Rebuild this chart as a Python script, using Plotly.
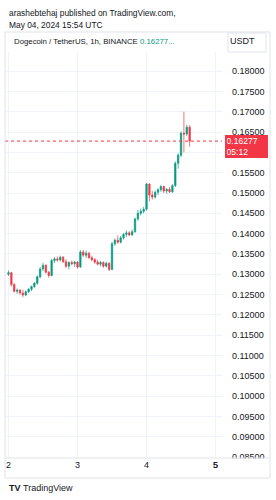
import plotly.graph_objects as go
import pandas as pd

# ---- data (1h candles, DOGE/USDT, from May 2 00:00 UTC) ----
start_time = "2024-05-02 00:00"
opens = [0.1300, 0.1304, 0.1275, 0.1258, 0.1261, 0.1254, 0.1249, 0.1257, 0.1263, 0.1270,
         0.1278, 0.1294, 0.1313, 0.1322, 0.1305, 0.1297, 0.1334, 0.1338, 0.1335, 0.1342,
         0.1331, 0.1320, 0.1329, 0.1326, 0.1330, 0.1318, 0.1355, 0.1347, 0.1352, 0.1341,
         0.1336, 0.1330, 0.1325, 0.1329, 0.1320, 0.1327, 0.1312, 0.1375, 0.1384, 0.1379,
         0.1390, 0.1398, 0.1402, 0.1397, 0.1405, 0.1436, 0.1450, 0.1455, 0.1460, 0.1522,
         0.1495, 0.1490, 0.1502, 0.1508, 0.1516, 0.1505, 0.1509, 0.1503, 0.1518, 0.1573,
         0.1593, 0.1647, 0.1645, 0.1662]
highs = [0.1309, 0.1306, 0.1278, 0.1265, 0.1264, 0.1262, 0.1260, 0.1266, 0.1272, 0.1281,
         0.1297, 0.1318, 0.1328, 0.1325, 0.1308, 0.1338, 0.1342, 0.1344, 0.1346, 0.1345,
         0.1337, 0.1332, 0.1334, 0.1333, 0.1332, 0.1360, 0.1360, 0.1358, 0.1355, 0.1346,
         0.1340, 0.1336, 0.1333, 0.1332, 0.1331, 0.1330, 0.1380, 0.1388, 0.1396, 0.1394,
         0.1402, 0.1408, 0.1406, 0.1410, 0.1440, 0.1458, 0.1462, 0.1466, 0.1525, 0.1524,
         0.1505, 0.1506, 0.1512, 0.1520, 0.1518, 0.1512, 0.1515, 0.1522, 0.1578, 0.1598,
         0.1652, 0.1700, 0.1668, 0.1667]
lows = [0.1296, 0.1270, 0.1255, 0.1252, 0.1250, 0.1244, 0.1246, 0.1254, 0.1259, 0.1266,
        0.1274, 0.1290, 0.1308, 0.1302, 0.1292, 0.1295, 0.1328, 0.1331, 0.1332, 0.1328,
        0.1315, 0.1312, 0.1322, 0.1318, 0.1314, 0.1316, 0.1343, 0.1340, 0.1338, 0.1332,
        0.1326, 0.1322, 0.1320, 0.1316, 0.1317, 0.1308, 0.1310, 0.1370, 0.1375, 0.1376,
        0.1385, 0.1392, 0.1394, 0.1395, 0.1402, 0.1432, 0.1445, 0.1450, 0.1457, 0.1480,
        0.1484, 0.1486, 0.1495, 0.1503, 0.1500, 0.1498, 0.1500, 0.1500, 0.1515, 0.1560,
        0.1588, 0.1600, 0.1640, 0.1614]
closes = [0.1304, 0.1275, 0.1258, 0.1261, 0.1254, 0.1249, 0.1257, 0.1263, 0.1270, 0.1278,
          0.1294, 0.1313, 0.1322, 0.1305, 0.1297, 0.1334, 0.1338, 0.1335, 0.1342, 0.1331,
          0.1320, 0.1329, 0.1326, 0.1330, 0.1318, 0.1355, 0.1347, 0.1352, 0.1341, 0.1336,
          0.1330, 0.1325, 0.1329, 0.1320, 0.1327, 0.1312, 0.1375, 0.1384, 0.1379, 0.1390,
          0.1398, 0.1402, 0.1397, 0.1405, 0.1436, 0.1450, 0.1455, 0.1460, 0.1522, 0.1495,
          0.1490, 0.1502, 0.1508, 0.1516, 0.1505, 0.1509, 0.1503, 0.1518, 0.1573, 0.1593,
          0.1647, 0.1645, 0.1662, 0.16277]
times = pd.date_range(start_time, periods=len(closes), freq="h")

price_ticks = [0.085, 0.090, 0.095, 0.100, 0.105, 0.110, 0.115, 0.120, 0.125, 0.130,
               0.135, 0.140, 0.145, 0.150, 0.155, 0.160, 0.165, 0.170, 0.175, 0.180]
# 0.16000 sits behind the last-price tag in the reference
price_labels = ["" if abs(v - 0.160) < 1e-9 else f"{v:.5f}" for v in price_ticks]
day_ticks = ["2024-05-02", "2024-05-03", "2024-05-04", "2024-05-05"]
day_labels = ["2", "3", "4", "5"]
last_price_label = "0.16277"
countdown = "05:12"

UP = "#089981"
DOWN = "#F23645"
TXT = "#131722"
GRID = "#f0f3fa"
BORDER = "#e0e3eb"
FONT = "Liberation Sans, Arial, sans-serif"

# ---- layout geometry (pixels) ----
W_PX, H_PX = 276, 500
L, R, T, B = 5, 222, 52, 458
PW, PH = R - L, B - T


def px(x):
    return (x - L) / PW


def py(y):
    return (B - y) / PH


fig = go.Figure()
fig.add_trace(go.Candlestick(
    x=times, open=opens, high=highs, low=lows, close=closes,
    increasing=dict(line=dict(color=UP, width=0.7), fillcolor=UP),
    decreasing=dict(line=dict(color=DOWN, width=0.7), fillcolor=DOWN),
    whiskerwidth=0, showlegend=False, hoverinfo="skip",
))

# last price dotted line
fig.add_shape(type="line", xref="paper", yref="y", x0=0, x1=1,
              y0=closes[-1], y1=closes[-1],
              line=dict(color=DOWN, width=1, dash="dot"), layer="above")

shapes_lines = [
    dict(x0=px(5), x1=px(270), y0=py(32), y1=py(32)),
    dict(x0=px(5), x1=px(270), y0=py(478), y1=py(478)),
    dict(x0=px(270), x1=px(270), y0=py(32), y1=py(478)),
    dict(x0=px(5), x1=px(5), y0=py(32), y1=py(478)),
    dict(x0=px(5), x1=px(270), y0=py(458), y1=py(458)),
]

common_x = dict(
    type="date",
    range=["2024-05-01 22:47", "2024-05-05 02:15"],
    showgrid=True, gridcolor=GRID, gridwidth=1,
    zeroline=False, showline=False, ticks="",
    tickfont=dict(size=9, color=TXT, family=FONT),
    fixedrange=True,
)

fig.update_layout(
    width=W_PX, height=H_PX,
    margin=dict(l=L, r=W_PX - R, t=T, b=H_PX - B, pad=0),
    paper_bgcolor="white", plot_bgcolor="white",
    font=dict(family=FONT, color=TXT, size=9),
    xaxis=dict(
        rangeslider=dict(visible=False),
        tickmode="array", tickvals=day_ticks, ticktext=day_labels,
        **common_x,
    ),
    # a twin time axis carrying the last day label (the primary one drops it)
    xaxis2=dict(
        overlaying="x", side="bottom", anchor="y",
        tickmode="array", tickvals=day_ticks[-1:], ticktext=day_labels[-1:],
        ticklabeloverflow="allow",
        **common_x,
    ),
    yaxis=dict(
        side="right",
        range=[0.0848, 0.1847],
        tickmode="array", tickvals=price_ticks, ticktext=price_labels,
        showgrid=True, gridcolor=GRID, gridwidth=1,
        zeroline=False, showline=False, ticks="",
        ticklabelstandoff=9,
        ticklabeloverflow="allow",
        tickfont=dict(size=9, color=TXT, family=FONT),
        fixedrange=True,
    ),
)
# invisible trace so the twin axis is drawn
fig.add_trace(go.Scatter(x=times[:1], y=closes[:1], xaxis="x2", mode="markers",
                         marker=dict(opacity=0), showlegend=False, hoverinfo="skip"))

# white mask clipping the bottom price label
fig.add_shape(type="rect", xref="paper", yref="paper",
              x0=px(R), x1=px(269.5), y0=py(462), y1=py(458.5),
              fillcolor="white", line=dict(width=0), layer="above")

for s in shapes_lines:
    fig.add_shape(type="line", xref="paper", yref="paper",
                  line=dict(color=BORDER, width=1), layer="above", **s)

# USDT box
fig.add_shape(type="rect", xref="paper", yref="paper",
              x0=px(228), x1=px(266), y0=py(52), y1=py(33),
              fillcolor="white", line=dict(color=BORDER, width=1), layer="above")

ann = []
ann.append(dict(text="arashebtehaj published on TradingView.com,", x=px(7), y=py(13),
                xanchor="left", yanchor="middle", font=dict(size=8.4, color=TXT)))
ann.append(dict(text="May 04, 2024 15:54 UTC", x=px(7), y=py(24.5),
                xanchor="left", yanchor="middle", font=dict(size=8.4, color=TXT)))
ann.append(dict(text="Dogecoin / TetherUS, 1h, BINANCE <span style='color:#089981'>0.16277...</span>",
                x=px(12), y=py(42), xanchor="left", yanchor="middle",
                font=dict(size=7.8, color=TXT)))
ann.append(dict(text="USDT", x=px(243), y=py(41.5), xanchor="center", yanchor="middle",
                font=dict(size=9, color=TXT)))
ann.append(dict(text="<b>TV</b>", x=px(7), y=py(488), xanchor="left", yanchor="middle",
                font=dict(size=9, color=TXT)))
ann.append(dict(text="TradingView", x=px(21), y=py(488), xanchor="left", yanchor="middle",
                font=dict(size=9, color=TXT)))
for a in ann:
    a.update(xref="paper", yref="paper", showarrow=False)
    fig.add_annotation(**a)

# last price tag on the price axis
fig.add_annotation(xref="paper", yref="y", x=px(225), y=closes[-1], yshift=-5.5,
                   xanchor="left", yanchor="middle", showarrow=False,
                   text=f"{last_price_label}<br>{countdown}", align="left",
                   bgcolor=DOWN, borderpad=0.5, bordercolor=DOWN,
                   width=40, height=20, font=dict(size=8.6, color="white"))

fig.write_html("out.html")
